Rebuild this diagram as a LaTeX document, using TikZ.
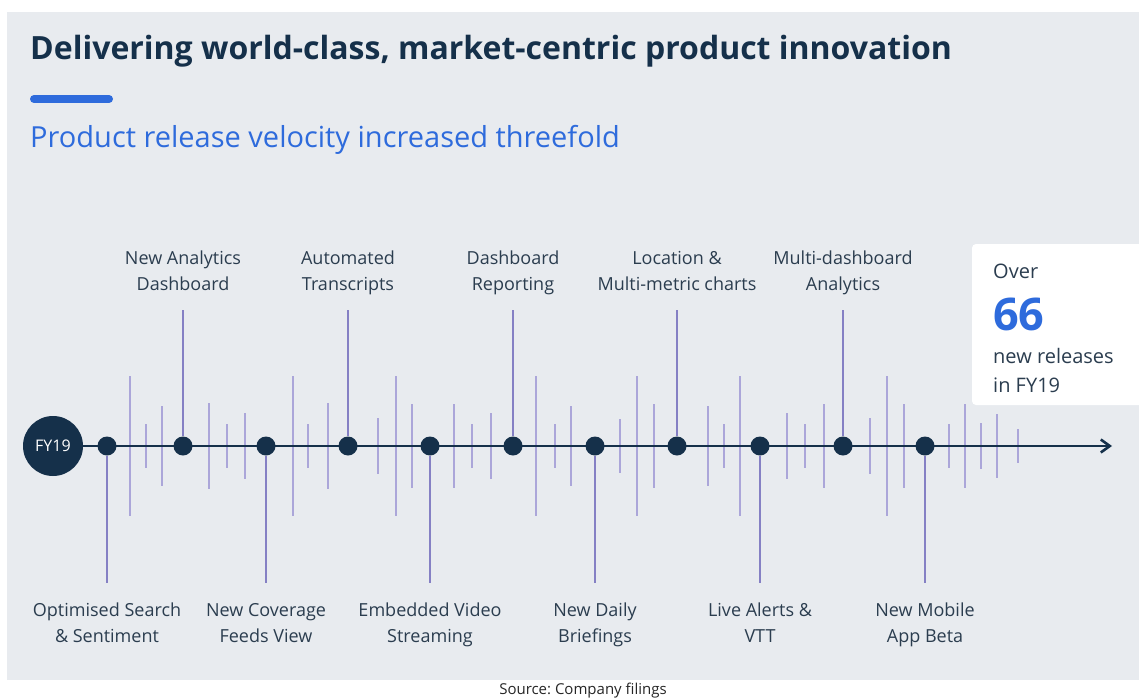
\documentclass[tikz,border=0pt]{standalone}
\usepackage{fontspec}
\setmainfont{Open Sans}
\usetikzlibrary{arrows.meta}

\definecolor{panel}{HTML}{E8EBEF}
\definecolor{navy}{HTML}{15304A}
\definecolor{brand}{HTML}{2E6BDC}
\definecolor{slate}{HTML}{2B3D4F}
\definecolor{stemc}{HTML}{8580C4}
\definecolor{tickc}{HTML}{ABA6D9}

\tikzset{
  dot/.style={circle, fill=navy, inner sep=0pt, minimum size=19pt},
  stem/.style={stemc, line width=2.4pt},
  tick/.style={tickc, line width=1.3pt},
  lbl/.style={align=center, anchor=base, inner sep=0pt, text=slate,
    font=\fontsize{18}{26}\selectfont},
  boxtxt/.style={anchor=base west, inner sep=0pt, text=slate,
    font=\fontsize{20}{20}\selectfont}
}

\begin{document}
\begin{tikzpicture}[x=1pt, y=-1pt]
  \useasboundingbox (0,0) rectangle (1139,698);
  \fill[panel] (7,12) rectangle (1139,680);

  % Heading
  \node[anchor=base west, inner sep=0pt, text=navy,
    font=\bfseries\fontsize{32}{32}\selectfont] (title) at (30,60)
    {Delivering world-class, market-centric product innovation};
  \draw[brand, line width=8pt, line cap=round] (34,99) -- (109,99);
  \node[anchor=base west, inner sep=0pt, text=brand,
    font=\fontsize{29}{29}\selectfont] (sub) at (30,147)
    {Product release velocity increased threefold};

  % Minor releases
  \foreach \x/\h in {130/70, 146/22, 162/40, 209/43, 227/22, 245/33,
      293/70, 308/22, 328/43, 378/28, 396/70, 412/42, 454/42, 472/22,
      491/33, 536/70, 555/22, 571/40, 620/27, 637/70, 654/42, 708/40,
      724/22, 740/70, 787/33, 805/22, 824/42, 870/28, 887/70, 904/42,
      949/22, 965/42, 981/23, 997/32, 1018/17}
    \draw[tick] (\x,446) ++(0,-\h) -- ++(0,2*\h);

  % Timeline
  \node[circle, fill=navy, minimum size=60pt, inner sep=0pt, text=white,
    font=\fontsize{16}{16}\selectfont] (fy) at (53,446) {FY19};
  \coordinate (tip) at (1112,446);
  \draw[navy, line width=2.6pt, -{Straight Barb[length=9pt, width=13pt]}]
    (fy) -- (tip);

  % Releases below the line
  \foreach \n/\x/\txt in {1/107/{Optimised Search\\\& Sentiment},
      3/266/{New Coverage\\Feeds View}, 5/430/{Embedded Video\\Streaming},
      7/595/{New Daily\\Briefings}, 9/760/{Live Alerts \&\\VTT},
      11/925/{New Mobile\\App Beta}}{
    \node[dot] (d\n) at (\x,446) {};
    \coordinate (e\n) at (\x,583);
    \draw[stem] (d\n) -- (e\n);
    \node[lbl] (l\n) at (\x,642) {\txt};
  }

  % Releases above the line
  \foreach \n/\x/\txt in {2/183/{New Analytics\\Dashboard},
      4/348/{Automated\\Transcripts}, 6/513/{Dashboard\\Reporting},
      8/677/{Location \&\\Multi-metric charts},
      10/843/{Multi-dashboard\\Analytics}}{
    \node[dot] (d\n) at (\x,446) {};
    \coordinate (e\n) at (\x,310);
    \draw[stem] (d\n) -- (e\n);
    \node[lbl] (l\n) at (\x,290) {\txt};
  }

  % Release count
  \fill[white, rounded corners=4pt] (972,244) rectangle (1150,405);
  \node[boxtxt] (over) at (993,278) {Over};
  \node[boxtxt, text=brand, font=\bfseries\fontsize{45}{45}\selectfont]
    (count) at (993,330) {66};
  \node[boxtxt] (rel) at (993,363) {new releases};
  \node[boxtxt] (fyr) at (993,392) {in FY19};

  \node[anchor=base, inner sep=0pt, text=black!85,
    font=\fontsize{15}{15}\selectfont] (src) at (583,694)
    {Source:\ Company filings};
\end{tikzpicture}
\end{document}
